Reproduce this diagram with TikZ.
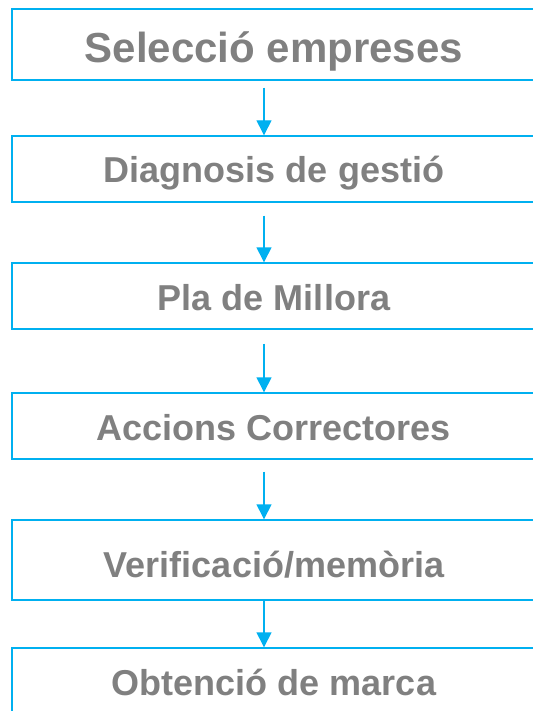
\documentclass[tikz,border=0pt]{standalone}
\usepackage{fontspec}
\setmainfont{Liberation Sans}
\usetikzlibrary{arrows.meta}
\definecolor{linecyan}{HTML}{00B0F0}
\definecolor{textgray}{HTML}{808080}
\tikzset{
  box/.style={draw=linecyan, line width=1.4pt, rectangle, minimum width=524pt, text height=28pt, text depth=0pt, text=textgray, font=\bfseries\fontsize{36}{40}\selectfont},
  flow/.style={draw=linecyan, line width=1.4pt, -{Triangle[width=15pt,length=15pt]}}
}
\begin{document}
\begin{tikzpicture}[x=1pt,y=-1pt]
			%%%%% START %%%%%
			\useasboundingbox (0,0) rectangle (532,711);
			
			\node[box, minimum height=71pt, text height=37pt, font=\bfseries\fontsize{42}{46}\selectfont] (sel) at (274, 44.5) {Selecció empreses};
			\node[box, minimum height=66pt] (diag) at (274, 169) {Diagnosis de gestió};
			\node[box, minimum height=66pt] (pla) at (274, 296) {Pla de Millora};
			\node[box, minimum height=66pt] (acc) at (274, 426) {Accions Correctores};
			\node[box, minimum height=80pt, text height=34pt] (ver) at (274, 560) {Verificació/memòria};
			\node[box, minimum height=66pt] (obt) at (274, 681) {Obtenció de marca};
			
			\draw[flow] ([xshift=-10pt,yshift=-7pt]sel.south) -- ([xshift=-10pt]diag.north);
			\draw[flow] ([xshift=-10pt,yshift=-13pt]diag.south) -- ([xshift=-10pt]pla.north);
			\draw[flow] ([xshift=-10pt,yshift=-14pt]pla.south) -- ([xshift=-10pt]acc.north);
			\draw[flow] ([xshift=-10pt,yshift=-12pt]acc.south) -- ([xshift=-10pt]ver.north);
			\draw[flow] ([xshift=-10pt]ver.south) -- ([xshift=-10pt]obt.north);
			
			%%%%% END %%%%%
\end{tikzpicture}
\end{document}
